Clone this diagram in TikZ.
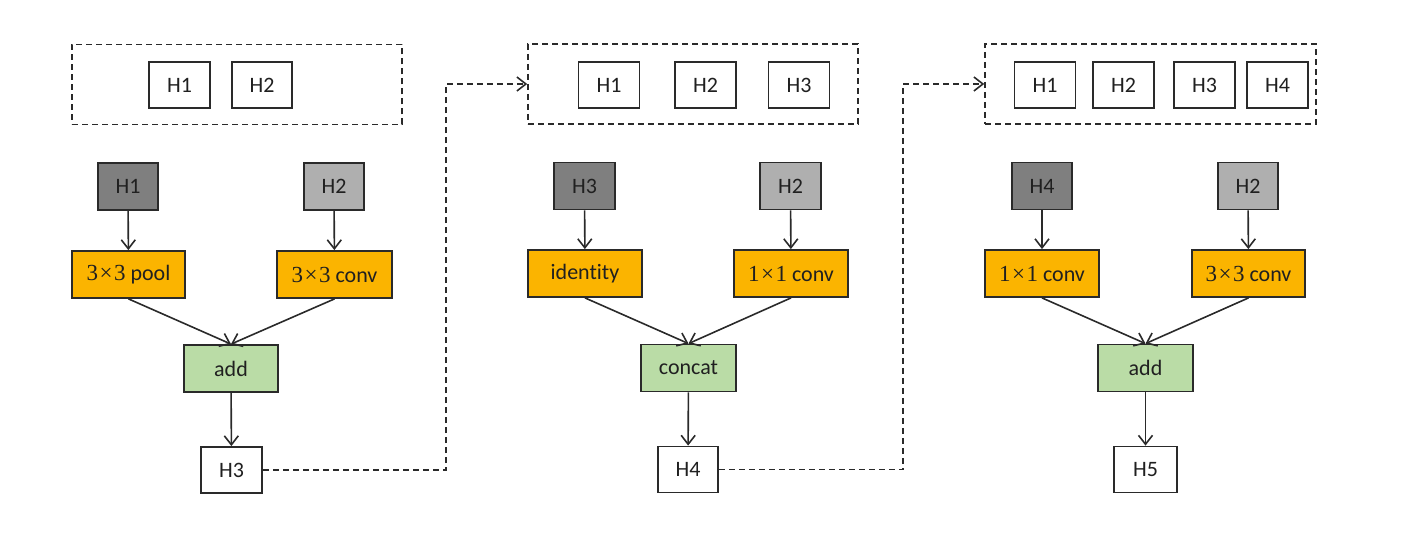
\documentclass[tikz,border=0pt]{standalone}
\usepackage{fontspec}
\setmainfont{Carlito}[Ligatures={NoCommon,NoDiscretionary,NoContextual}]
\newfontfamily\numfont{Liberation Serif}
\usetikzlibrary{arrows.meta}
\definecolor{darkg}{HTML}{7F7F7F}
\definecolor{lightg}{HTML}{AFAFAF}
\definecolor{opfill}{HTML}{FBB400}
\definecolor{merge}{HTML}{BADCA6}
\definecolor{edge}{HTML}{2A2A2A}
\definecolor{txt}{HTML}{202020}
\newcommand{\nx}[1]{{\numfont\fontsize{23}{24}\selectfont #1\kern1.5pt×\kern1.5pt#1}}
\begin{document}
\begin{tikzpicture}[x=1pt,y=-1pt,
  font=\fontsize{22}{24}\selectfont, text=txt,
  box/.style={draw=edge, line width=1.8pt, inner sep=0pt, minimum height=46pt},
  hbox/.style={box, fill=white, minimum width=61pt},
  dgbox/.style={box, fill=darkg, minimum width=60pt, minimum height=47pt},
  lgbox/.style={box, fill=lightg, minimum width=60pt, minimum height=47pt},
  opbox/.style={box, fill=opfill, minimum width=114pt, minimum height=47pt},
  mgbox/.style={box, fill=merge, minimum width=95pt, minimum height=47pt},
  pool/.style={draw=edge, dash pattern=on 6pt off 4pt, line width=1.6pt, inner sep=0pt, minimum width=330pt, minimum height=80pt},
  arr/.style={draw=edge, line width=1.6pt, -{Straight Barb[length=9pt,width=14pt]}},
  darr/.style={draw=edge, line width=1.6pt, dash pattern=on 6pt off 4pt, -{Straight Barb[length=9pt,width=14pt]}}
]
\useasboundingbox (0,0) rectangle (1412,534);

% ---------- panel 1 ----------
\node[pool] (P1) at (237,84.5) {};
\node[hbox] (p1a) at (179.5,85) {H1};
\node[hbox, minimum width=60pt] (p1b) at (262,85) {H2};
\node[dgbox] (p1in1) at (128,186.5) {H1};
\node[lgbox] (p1in2) at (334,186.5) {H2};
\node[opbox, minimum width=113pt] (p1op1) at (128.5,274.5) {\nx{3} pool};
\node[opbox, minimum width=115pt] (p1op2) at (334.5,274.5) {\nx{3} conv};
\node[mgbox, minimum width=94pt] (p1m) at (231,368.5) {add};
\node[hbox] (p1out) at (231.5,470) {H3};
\draw[arr] (p1in1) -- (p1op1);
\draw[arr] (p1in2) -- (p1op2);
\draw[arr] (p1op1.south) -- (p1m.north);
\draw[arr] (p1op2.south) -- (p1m.north);
\draw[arr] (p1m) -- (p1out);

% ---------- panel 2 ----------
\node[pool] (P2) at (693,84) {};
\node[hbox] (p2a) at (609,85) {H1};
\node[hbox] (p2b) at (705.5,85) {H2};
\node[hbox] (p2c) at (799,85) {H3};
\node[dgbox, minimum width=61pt] (p2in1) at (584.5,186) {H3};
\node[lgbox, minimum width=61pt] (p2in2) at (790.5,186) {H2};
\node[opbox] (p2op1) at (585,273.5) {identity};
\node[opbox] (p2op2) at (791,273.5) {\nx{1} conv};
\node[mgbox] (p2m) at (688.5,368) {concat};
\node[hbox, minimum width=60pt] (p2out) at (688,469.5) {H4};
\draw[arr] (p2in1) -- (p2op1);
\draw[arr] (p2in2) -- (p2op2);
\draw[arr] (p2op1.south) -- (p2m.north);
\draw[arr] (p2op2.south) -- (p2m.north);
\draw[arr] (p2m) -- (p2out);

% ---------- panel 3 ----------
\node[pool, minimum width=331pt] (P3) at (1150.5,84) {};
\node[hbox] (p3a) at (1045,85) {H1};
\node[hbox] (p3b) at (1123.5,85) {H2};
\node[hbox] (p3c) at (1204.5,85) {H3};
\node[hbox] (p3d) at (1277.5,85) {H4};
\node[dgbox] (p3in1) at (1042,186) {H4};
\node[lgbox] (p3in2) at (1248,186) {H2};
\node[opbox] (p3op1) at (1042,273.5) {\nx{1} conv};
\node[opbox, minimum width=113pt] (p3op2) at (1248.5,273.5) {\nx{3} conv};
\node[mgbox] (p3m) at (1145.5,368) {add};
\node[hbox, minimum width=63pt] (p3out) at (1145.5,469.5) {H5};
\draw[arr] (p3in1) -- (p3op1);
\draw[arr] (p3in2) -- (p3op2);
\draw[arr] (p3op1.south) -- (p3m.north);
\draw[arr] (p3op2.south) -- (p3m.north);
\draw[arr] (p3m) -- (p3out);

% ---------- links between panels ----------
\coordinate (k1) at (446,84);
\coordinate (k2) at (903,84);
\draw[darr] (p1out.east) -| (k1) -- (P2.west);
\draw[darr] (p2out.east) -| (k2) -- (P3.west);
\end{tikzpicture}
\end{document}
